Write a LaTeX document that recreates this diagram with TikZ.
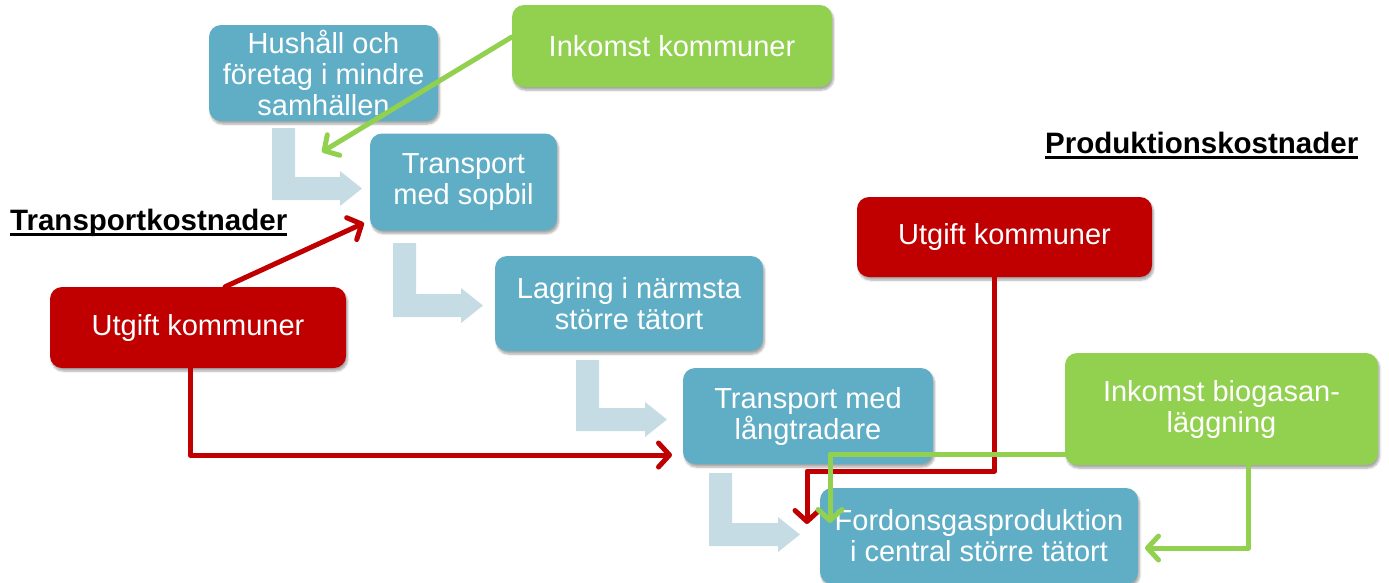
\documentclass[tikz,border=0pt]{standalone}
\usepackage{fontspec}
\setmainfont{Liberation Sans}
\usetikzlibrary{arrows.meta,shadows.blur}
\definecolor{boxblue}{RGB}{96,174,198}
\definecolor{boxgreen}{RGB}{146,208,80}
\definecolor{boxred}{RGB}{192,0,0}
\definecolor{bentfill}{RGB}{198,220,228}
\newcommand\bentarr[4]{%
  \fill[bentfill] (#1,#2) -- (#1+23,#2) -- (#1+23,#3-11.5) -- (#4-22,#3-11.5) -- (#4-22,#3-17.5)
    -- (#4,#3) -- (#4-22,#3+17.5) -- (#4-22,#3+11.5) -- (#1,#3+11.5) -- cycle;}
\newcommand\myul[1]{\setbox0\hbox{#1}\rlap{\rule[-6pt]{\wd0}{2.6pt}}\box0}
\tikzset{
  box/.style={rounded corners=12pt, inner sep=0pt, align=center, text=white,
    font=\fontsize{29}{31}\selectfont,
    blur shadow={shadow xshift=1.5pt, shadow yshift=-3pt, shadow blur steps=6, shadow opacity=35}},
  bluebox/.style={box, fill=boxblue},
  greenbox/.style={box, fill=boxgreen},
  redbox/.style={box, fill=boxred},
  heading/.style={inner sep=0pt, anchor=base west, font=\fontsize{29.5}{31}\selectfont\bfseries},
  conn/.style={line width=5pt, line join=round, line cap=round,
    -{Straight Barb[length=11pt, width=24pt, round]}},
  rconn/.style={conn, draw=boxred},
  gconn/.style={conn, draw=boxgreen},
}
\begin{document}
\begin{tikzpicture}[x=1pt, y=-1pt]
\useasboundingbox (0,0) rectangle (1389,582);
% bent process arrows
\bentarr{272}{128}{188.5}{362}
\bentarr{393}{243}{305.5}{483}
\bentarr{576}{360}{419.5}{667}
\bentarr{709}{473}{534.5}{800}
% nodes
\node[bluebox, minimum width=229pt, minimum height=96pt] (hus) at (323.5,73) {Hushåll och\\företag i mindre\\samhällen};
\node[greenbox, minimum width=320pt, minimum height=82pt] (inkk) at (672,46) {Inkomst kommuner};
\node[bluebox, minimum width=187pt, minimum height=97pt] (sop) at (463.5,182) {Transport\\med sopbil};
\node[bluebox, minimum width=268pt, minimum height=95pt] (lag) at (629,303.5) {Lagring i närmsta\\större tätort};
\node[bluebox, minimum width=250pt, minimum height=96pt] (lang) at (808,416) {Transport med\\långtradare};
\node[bluebox, minimum width=318pt, minimum height=96pt] (ford) at (979,536) {Fordonsgasproduktion\\i central större tätort};
\node[redbox, minimum width=296pt, minimum height=81pt] (utg1) at (198,327.5) {Utgift kommuner};
\node[redbox, minimum width=295pt, minimum height=80pt] (utg2) at (1004.5,237) {Utgift kommuner};
\node[greenbox, minimum width=313pt, minimum height=112pt] (bio) at (1221.5,409) {Inkomst biogasan-\\läggning};
% headings
\node[heading] (tk) at (10,230) {\myul{Transportkostnader}};
\node[heading] (pk) at (1045,153) {\myul{Produktionskostnader}};
% connector endpoints
\coordinate (g1tip) at (322,152);
\coordinate (r1tip) at (364,223);
\coordinate (r2tip) at (672,455);
\coordinate (r3bend) at (807,471);
\coordinate (r3tip) at (807,524);
\coordinate (g2tip) at (830,523);
\coordinate (g3tip) at (1145,548);
% connectors
\draw[gconn] ([yshift=9pt]inkk.west) -- (g1tip);
\draw[rconn] ([xshift=27pt]utg1.north) -- (r1tip);
\draw[rconn] ([xshift=-8pt]utg1.south) |- (r2tip);
\draw[rconn] ([xshift=-10pt]utg2.south) |- (r3bend) -- (r3tip);
\draw[gconn] ([yshift=-45pt]bio.west) -| (g2tip);
\draw[gconn] ([xshift=27pt]bio.south) |- (g3tip);
\end{tikzpicture}
\end{document}
